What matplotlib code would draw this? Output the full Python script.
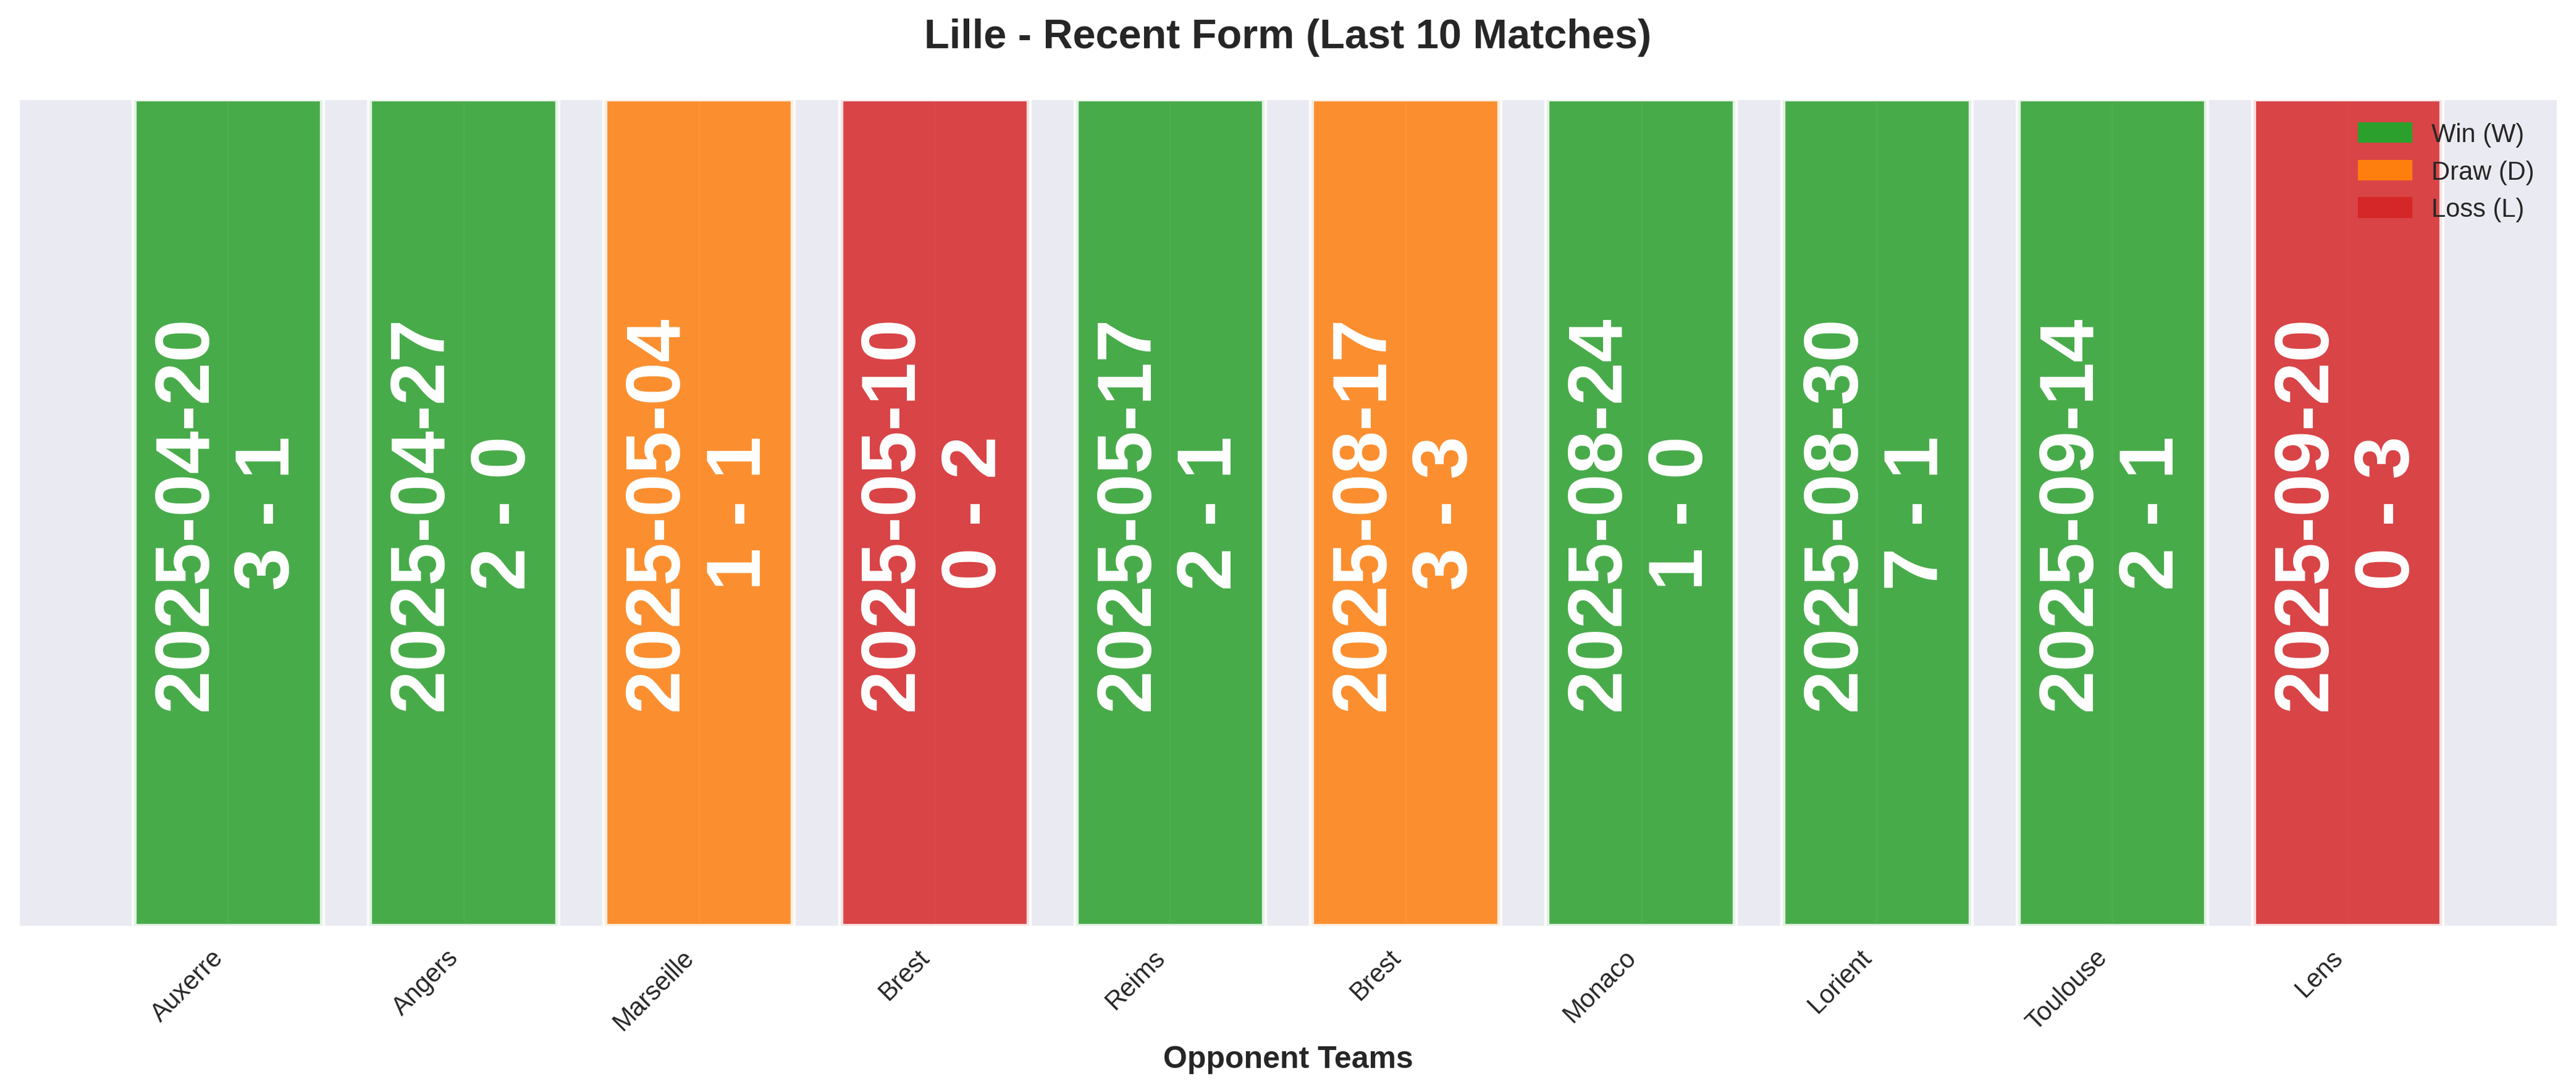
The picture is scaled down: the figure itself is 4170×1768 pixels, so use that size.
import matplotlib
matplotlib.use('Agg')
import matplotlib.pyplot as plt
import seaborn as sns
from matplotlib.patches import Patch

# Data
opponents = ['Auxerre', 'Angers', 'Marseille', 'Brest', 'Reims',
             'Brest', 'Monaco', 'Lorient', 'Toulouse', 'Lens']
dates = ['2025-04-20', '2025-04-27', '2025-05-04', '2025-05-10', '2025-05-17',
         '2025-08-17', '2025-08-24', '2025-08-30', '2025-09-14', '2025-09-20']
scores = ['3 - 1', '2 - 0', '1 - 1', '0 - 2', '2 - 1',
          '3 - 3', '1 - 0', '7 - 1', '2 - 1', '0 - 3']
results = ['W', 'W', 'D', 'L', 'W', 'D', 'W', 'W', 'W', 'L']

result_colors = {'W': '#2ca02c', 'D': '#ff7f0e', 'L': '#d62728'}
result_labels = {'W': 'Win (W)', 'D': 'Draw (D)', 'L': 'Loss (L)'}

sns.set_style('darkgrid')
plt.rcParams['font.family'] = ['Liberation Sans', 'DejaVu Sans']

fig, ax = plt.subplots(figsize=(14, 6))

x = range(len(opponents))
colors = [result_colors[r] for r in results]
ax.bar(x, [1] * len(opponents), color=colors, alpha=0.85,
       edgecolor='white', linewidth=2)

# Date and score inside each bar
for i, (d, s) in enumerate(zip(dates, scores)):
    ax.text(i, 0.5, f'{d}\n{s}', ha='center', va='center', rotation=90,
            fontsize=30, fontweight='bold', color='white')

ax.set_ylim(0, 1)
ax.set_yticks([])
ax.set_xticks(list(x))
ax.set_xticklabels(opponents, rotation=45, ha='right')
ax.set_xlabel('Opponent Teams', fontsize=12, fontweight='bold')
ax.set_title('Lille - Recent Form (Last 10 Matches)', fontsize=16,
             fontweight='bold', pad=20)

handles = [Patch(color=result_colors[k], label=result_labels[k]) for k in ['W', 'D', 'L']]
ax.legend(handles=handles, loc='upper right', frameon=False)

plt.tight_layout()
plt.savefig('out.png', dpi=300, bbox_inches='tight')
